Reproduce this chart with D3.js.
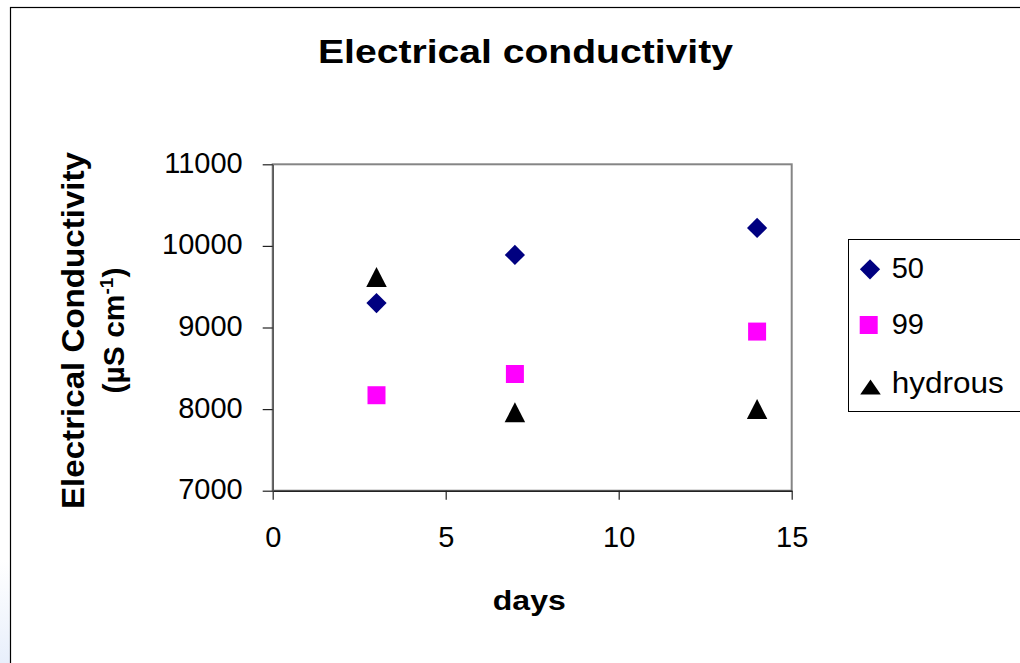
<!DOCTYPE html>
<html>
<head>
<meta charset="utf-8">
<script src="https://cdn.jsdelivr.net/npm/d3@7"></script>
<style>
  html, body { margin: 0; padding: 0; background: #fff; }
  svg { display: block; }
  text { font-family: "Liberation Sans", Arial, sans-serif; fill: #000; }
</style>
</head>
<body>
<svg id="chart" width="1020" height="663"></svg>
<script>
// ---- data ----
const days = [3, 7, 14];
const series50 = [9300, 9890, 10220];
const series99 = [8170, 8430, 8950];
const seriesHydrous = [9620, 7960, 8000];
const seriesNames = ["50", "99", "hydrous"];
const xTicks = [0, 5, 10, 15];
const yTicks = [7000, 8000, 9000, 10000, 11000];

const svg = d3.select("#chart");

// background tint at far left + outer frame
const defs = svg.append("defs");
const grad = defs.append("linearGradient").attr("id", "tint").attr("x1", 0).attr("y1", 0).attr("x2", 0).attr("y2", 1);
grad.append("stop").attr("offset", "0%").attr("stop-color", "#ffffff");
grad.append("stop").attr("offset", "100%").attr("stop-color", "#e8effb");
svg.append("rect").attr("x", 0).attr("y", 560).attr("width", 10).attr("height", 103).attr("fill", "url(#tint)");
svg.append("rect").attr("x", 10.5).attr("y", 7.5).attr("width", 1030).attr("height", 700)
  .attr("fill", "none").attr("stroke", "#000").attr("stroke-width", 1.2);

// ---- scales ----
const plot = { left: 272.7, right: 791.7, top: 164.3, bottom: 490.7 };
const x = d3.scaleLinear().domain([0, 15]).range([plot.left, plot.right]);
const y = d3.scaleLinear().domain([7000, 11000]).range([plot.bottom, plot.top]);

// plot area border
svg.append("rect")
  .attr("x", plot.left).attr("y", plot.top)
  .attr("width", plot.right - plot.left).attr("height", plot.bottom - plot.top)
  .attr("fill", "none").attr("stroke", "#858585").attr("stroke-width", 2);

// ---- axes ----
const xAxis = svg.append("g").attr("transform", `translate(0,${plot.bottom})`)
  .call(d3.axisBottom(x).tickValues(xTicks).tickSize(9).tickSizeOuter(0).tickFormat(d3.format("d")));
xAxis.select(".domain").attr("stroke", "#222").attr("stroke-width", 1.5);
xAxis.selectAll(".tick line").attr("stroke", "#222").attr("stroke-width", 1.2);
xAxis.selectAll(".tick text").attr("font-size", 29).attr("font-family", "Liberation Sans, Arial, sans-serif")
  .attr("fill", "#000").attr("y", 0).attr("dy", 0).attr("transform", "translate(0,56)");

const yAxis = svg.append("g").attr("transform", `translate(${plot.left},0)`)
  .call(d3.axisLeft(y).tickValues(yTicks).tickSize(10).tickSizeOuter(0).tickFormat(d3.format("d")));
yAxis.select(".domain").attr("stroke", "#555").attr("stroke-width", 1.5);
yAxis.selectAll(".tick line").attr("stroke", "#222").attr("stroke-width", 1.2);
yAxis.selectAll(".tick text").attr("font-size", 29).attr("font-family", "Liberation Sans, Arial, sans-serif")
  .attr("fill", "#000").attr("x", -30).attr("dy", 8);

// ---- titles ----
svg.append("text").attr("x", 525.5).attr("y", 62.7).attr("text-anchor", "middle")
  .attr("font-size", 34).attr("font-weight", "bold")
  .attr("textLength", 415).attr("lengthAdjust", "spacingAndGlyphs")
  .text("Electrical conductivity");

svg.append("text").attr("x", 529.3).attr("y", 610).attr("text-anchor", "middle")
  .attr("font-size", 28).attr("font-weight", "bold")
  .attr("textLength", 73).attr("lengthAdjust", "spacingAndGlyphs")
  .text("days");

const yl = svg.append("g").attr("transform", "translate(0,330.5) rotate(-90)");
yl.append("text").attr("x", 0).attr("y", 83.5).attr("text-anchor", "middle")
  .attr("font-size", 32).attr("font-weight", "bold")
  .attr("textLength", 357).attr("lengthAdjust", "spacingAndGlyphs")
  .text("Electrical Conductivity");
const l2 = yl.append("text").attr("x", 0).attr("y", 123.5).attr("text-anchor", "middle")
  .attr("font-size", 30).attr("font-weight", "bold");
l2.append("tspan").text("(\u00B5S cm");
l2.append("tspan").attr("font-size", 19).attr("dy", -11).text("-1");
l2.append("tspan").attr("dy", 11).text(")");

// ---- markers ----
const sym = {
  diamond: d3.symbol().type(d3.symbolSquare).size(14.3 * 14.3),
  square: d3.symbol().type(d3.symbolSquare).size(18 * 18),
};
function triPath(w, h) {
  return `M0,${-h/2}L${w/2},${h/2}L${-w/2},${h/2}Z`;
}

const g = svg.append("g");
g.selectAll(".d50").data(days.map((d, i) => [d, series50[i]])).join("path")
  .attr("d", sym.diamond())
  .attr("transform", d => `translate(${x(d[0])},${y(d[1])}) rotate(45)`)
  .attr("fill", "#000080");
g.selectAll(".d99").data(days.map((d, i) => [d, series99[i]])).join("path")
  .attr("d", sym.square())
  .attr("transform", d => `translate(${x(d[0])},${y(d[1])})`)
  .attr("fill", "#FF00FF");
g.selectAll(".dh").data(days.map((d, i) => [d, seriesHydrous[i]])).join("path")
  .attr("d", triPath(20.5, 20))
  .attr("transform", d => `translate(${x(d[0])},${y(d[1])})`)
  .attr("fill", "#000");

// ---- legend ----
svg.append("rect").attr("x", 848.5).attr("y", 239.5).attr("width", 200).attr("height", 172)
  .attr("fill", "#fff").attr("stroke", "#000").attr("stroke-width", 1);
const legY = [269.3, 325, 387];
const leg = svg.append("g");
leg.append("path").attr("d", sym.diamond()).attr("transform", `translate(870,${legY[0]}) rotate(45)`).attr("fill", "#000080");
leg.append("path").attr("d", sym.square()).attr("transform", `translate(868.7,${legY[1]})`).attr("fill", "#FF00FF");
leg.append("path").attr("d", triPath(20.5, 15)).attr("transform", `translate(870.5,${legY[2]})`).attr("fill", "#000");
leg.selectAll("text.lt").data(seriesNames).join("text")
  .attr("x", 891.7).attr("y", (d, i) => legY[i] + 9 + (i === 2 ? -3 : 0) + (i === 0 ? 0 : 0))
  .attr("font-size", 29)
  .each(function(d) { if (d === "hydrous") d3.select(this).attr("textLength", 112).attr("lengthAdjust", "spacingAndGlyphs"); })
  .text(d => d);
</script>
</body>
</html>
